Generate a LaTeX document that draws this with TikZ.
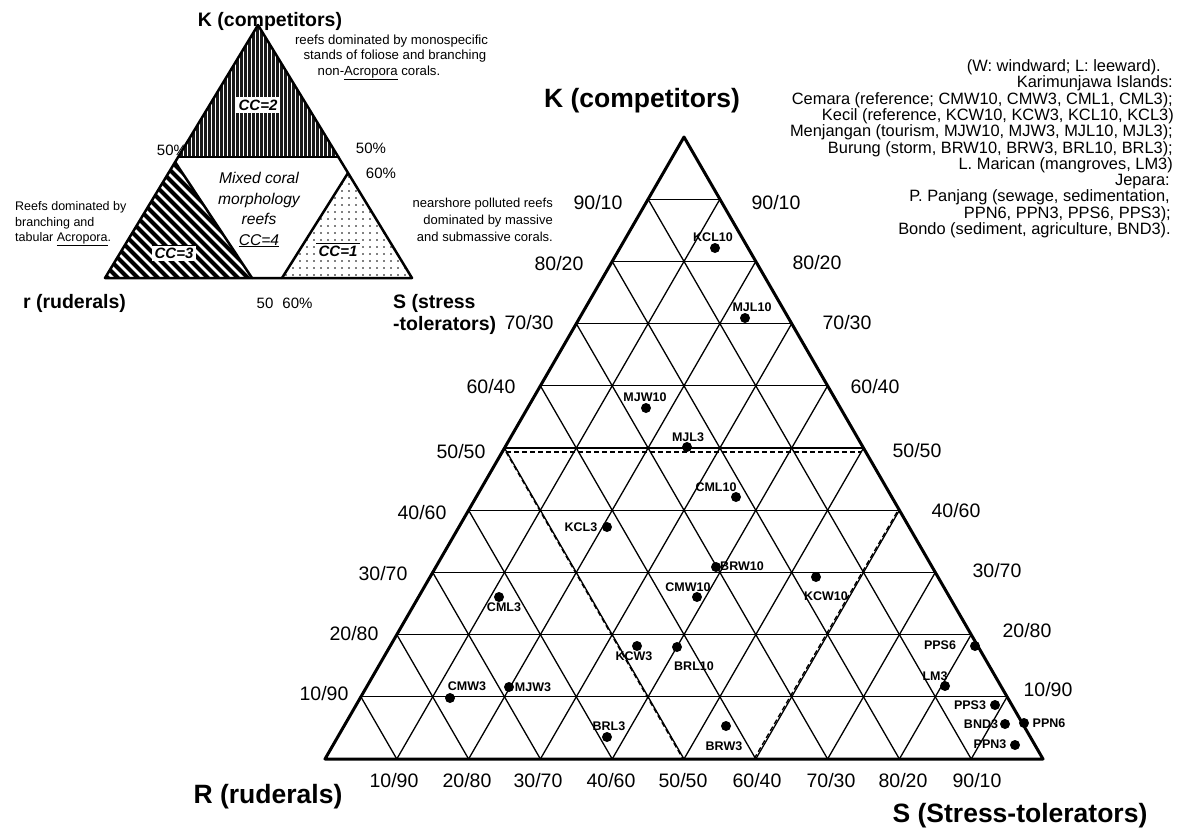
\documentclass[tikz,border=0pt]{standalone}
\usepackage{fontspec}
\setmainfont{Liberation Sans}
\usetikzlibrary{calc}
\begin{document}
\begin{tikzpicture}[x=1pt,y=-1pt,
  gridline/.style={line width=1.3pt,black},
  outline/.style={line width=3pt,line join=round,line cap=round},
  ioutline/.style={line width=2.5pt,line join=round,line cap=round},
  dashline/.style={line width=1.3pt,dash pattern=on 5pt off 3pt},
  datapt/.style={circle,fill=black,inner sep=0pt,minimum size=10pt},
  plab/.style={font=\bfseries\fontsize{12.5}{14}\selectfont,inner sep=0pt,anchor=base},
  tlab/.style={font=\fontsize{19.5}{22}\selectfont,inner sep=0pt,anchor=base},
  axlab/.style={font=\bfseries\fontsize{26.5}{30}\selectfont,inner sep=0pt,anchor=base},
  leg/.style={font=\fontsize{16.4}{16.4}\selectfont,inner sep=0pt,anchor=base east},
  small/.style={font=\fontsize{13.2}{15}\selectfont,inner sep=0pt,anchor=base},
  ilab/.style={font=\bfseries\fontsize{19.5}{22}\selectfont,inner sep=0pt,anchor=base},
  pct/.style={font=\fontsize{15}{17}\selectfont,inner sep=0pt,anchor=base},
  mixed/.style={font=\itshape\fontsize{15.6}{18}\selectfont,inner sep=0pt,anchor=base},
  ccbox/.style={font=\bfseries\itshape\fontsize{15}{17}\selectfont,fill=white,inner sep=2.5pt,
    path picture={\draw[line width=0.6pt] (path picture bounding box.north west) -- (path picture bounding box.north east);
                  \draw[line width=0.6pt] (path picture bounding box.south west) -- (path picture bounding box.south east);}},
  ccbox2/.style={font=\bfseries\itshape\fontsize{15}{17}\selectfont,fill=white,inner sep=2.5pt}
]
\useasboundingbox (0,0) rectangle (1183,828);
\fill[white] (0,0) rectangle (1183,828);

% ================= INSET TRIANGLE =================
\coordinate (iA) at (258,25);
\coordinate (iL) at (105,278);
\coordinate (iR) at (412,278);
\coordinate (t1) at (178.2,157);
\coordinate (t2) at (338.4,157);
\coordinate (h1) at (175.1,162);
\coordinate (h2) at (252,278);
\coordinate (d1) at (348,173);
\coordinate (d2) at (282,278);

\node[pct] (p50l) at (172,155.4) {50\%};

% CC=2 region: dark vertical hatching
\begin{scope}
  \clip (iA) -- (t1) -- (t2) -- cycle;
  \fill[black!90] (170,20) rectangle (345,160);
  \foreach \x in {171,175,...,345} \draw[white,line width=0.5pt] (\x,20) -- (\x,160);
\end{scope}
% CC=3 region: diagonal stripes
\begin{scope}
  \clip (iL) -- (h1) -- (h2) -- cycle;
  \foreach \x in {-90,-80,...,260} \draw[line width=4pt] (\x,150) -- (\x+140,290);
\end{scope}
% CC=1 region: dots
\begin{scope}
  \clip (iR) -- (d1) -- (d2) -- cycle;
  \foreach \x in {279,286,...,415} \foreach \y in {170,177,...,282} \fill (\x,\y) circle (0.9);
\end{scope}

\draw[ioutline] (iL) -- (iA) -- (iR) -- cycle;
\draw[ioutline] (t1) -- (t2);
\draw[ioutline] (h1) -- (h2);
\draw[ioutline] (d1) -- (d2);

\node[ccbox2] (cc2) at (258,105) {CC=2};
\node[ccbox] (cc3) at (174,253) {CC=3};
\node[ccbox] (cc1) at (338,251) {CC=1};

\node[mixed] (mx1) at (259,183) {Mixed coral};
\node[mixed] (mx2) at (259,204) {morphology};
\node[mixed] (mx3) at (259,224) {reefs};
\node[mixed] (mx4) at (259,245) {\underline{CC=4}};

\node[ilab] (ik) at (270,26) {K (competitors)};
\node[ilab] (ir) at (74.5,308) {r (ruderals)};
\node[ilab,anchor=base west] (is1) at (393,308) {S (stress};
\node[ilab,anchor=base west] (is2) at (393,330) {-tolerators)};

\node[pct] (p50r) at (371,153.4) {50\%};
\node[pct] (p60r) at (381,178.4) {60\%};
\node[pct] (p50b) at (265,308) {50};
\node[pct] (p60b) at (297.5,308) {60\%};

\node[small] (n1a) at (391.5,44.5) {reefs dominated by monospecific};
\node[small] (n1b) at (395,59.5) {stands of foliose and branching};
\node[small] (n1c) at (379,75.5) {non-\underline{Acropora} corals.};

\node[small,anchor=base west,font=\fontsize{12.5}{15}\selectfont] (n2a) at (15,210.5) {Reefs dominated by};
\node[small,anchor=base west,font=\fontsize{12.5}{15}\selectfont] (n2b) at (15,226.5) {branching and};
\node[small,anchor=base west,font=\fontsize{12.5}{15}\selectfont] (n2c) at (15,241.5) {tabular \underline{Acropora}.};

\node[small,anchor=base east,font=\fontsize{13}{15}\selectfont] (n3a) at (553,207.5) {nearshore polluted reefs};
\node[small,anchor=base east,font=\fontsize{13}{15}\selectfont] (n3b) at (553,224.5) {dominated by massive};
\node[small,anchor=base east,font=\fontsize{13}{15}\selectfont] (n3c) at (553,241.5) {and submassive corals.};

% ================= MAIN TERNARY =================
\coordinate (L) at (325,759);
\coordinate (R) at (1043,759);
\coordinate (A) at (684,137);

\foreach \k [evaluate=\k as \f using \k/10, evaluate=\k as \g using 1-\k/10] in {1,...,9} {
  \draw[gridline] ($(L)!\f!(A)$) -- ($(R)!\f!(A)$);
  \draw[gridline] ($(L)!\f!(R)$) -- ($(R)!\g!(A)$);
  \draw[gridline] ($(L)!\f!(R)$) -- ($(L)!\f!(A)$);
}

\coordinate (dh1) at (506,452);
\coordinate (dh2) at (861,452);
\coordinate (dl2) at (683,759);
\coordinate (dr1) at (897,512);
\coordinate (dr2) at (754,759);
\draw[dashline] (dh1) -- (dh2);
\draw[dashline] (dh1) -- (dl2);
\draw[dashline] (dr1) -- (dr2);

\draw[outline] (L) -- (A) -- (R) -- cycle;

% tick labels
\foreach \a/\b/\x/\y in {90/10/598/209, 80/20/559/270, 70/30/529/329, 60/40/491/393, 50/50/461/458, 40/60/422/519, 30/70/383/580, 20/80/354/640, 10/90/324/700}
  \node[tlab] at (\x,\y) {\a/\b};
\foreach \a/\b/\x/\y in {90/10/776/209, 80/20/817/269, 70/30/847/329, 60/40/875/393, 50/50/917/457, 40/60/956/517, 30/70/997/577, 20/80/1027/637, 10/90/1048/696}
  \node[tlab] at (\x,\y) {\a/\b};
\foreach \a/\b/\x in {10/90/394, 20/80/467, 30/70/538, 40/60/611, 50/50/683, 60/40/757, 70/30/831, 80/20/903, 90/10/977}
  \node[tlab] at (\x,787) {\a/\b};

\node[axlab] (axk) at (642,107) {K (competitors)};
\node[axlab] (axr) at (268,803) {R (ruderals)};
\node[axlab] (axs) at (1020,822) {S (Stress-tolerators)};

% data points
\foreach \n/\px/\py/\lx/\ly in {KCL10/715/248/713/237, MJL10/745/318/752/307, MJW10/646/408/645/397,
  MJL3/687/447/688/437, CML10/736/497/716/487, KCL3/607/527/581/527, BRW10/716/567/742/566,
  CMW10/697/597/688/587, KCW10/816/577/826/596, CML3/499/597/504/607, KCW3/637/646/634/656,
  BRL10/677/647/694/666, CMW3/450/698/467/686, MJW3/509/687/533/687, BRL3/607/737/609/726,
  BRW3/726/726/724/746, PPS6/975/646/940/645, LM3/945/686/935/676, PPS3/995/705/970/705,
  BND3/1005/724/981/724, PPN6/1024/723/1049/723, PPN3/1015/745/990/744} {
  \node[datapt] (pt-\n) at (\px,\py) {};
  \node[plab] (lb-\n) at (\lx,\ly+4.5) {\n};
}

% legend
\node[leg] (lg1) at (1161,71) {(W: windward; L: leeward).};
\node[leg] (lg2) at (1173,87) {Karimunjawa Islands:};
\node[leg] (lg3) at (1173,104) {Cemara (reference; CMW10, CMW3, CML1, CML3);};
\node[leg] (lg4) at (1174,120) {Kecil (reference, KCW10, KCW3, KCL10, KCL3)};
\node[leg] (lg5) at (1173,136) {Menjangan (tourism, MJW10, MJW3, MJL10, MJL3);};
\node[leg] (lg6) at (1173,153) {Burung (storm, BRW10, BRW3, BRL10, BRL3);};
\node[leg] (lg7) at (1173,169) {L. Marican (mangroves, LM3)};
\node[leg] (lg8) at (1170,185) {Jepara:};
\node[leg] (lg9) at (1170,201) {P. Panjang (sewage, sedimentation,};
\node[leg] (lg10) at (1171,218) {PPN6, PPN3, PPS6, PPS3);};
\node[leg] (lg11) at (1171,234) {Bondo (sediment, agriculture, BND3).};
\end{tikzpicture}
\end{document}
